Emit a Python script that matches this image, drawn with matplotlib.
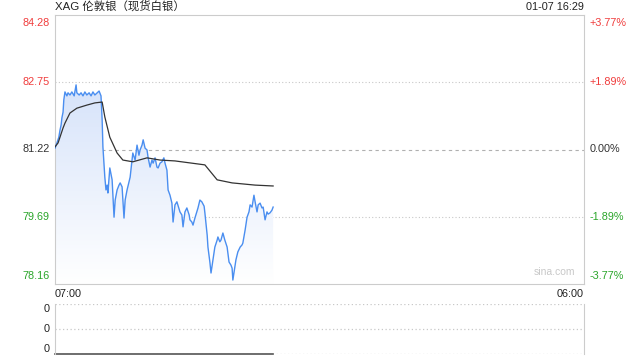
import numpy as np
import matplotlib.pyplot as plt
from matplotlib.patches import Polygon

plt.rcParams['font.family'] = ['Liberation Sans', 'Noto Sans CJK SC', 'DejaVu Sans']

# minutes after 07:00, price
minutes = [0, 5, 10, 13, 16, 18, 21, 23, 26, 31, 34, 39, 44, 50, 55, 57, 63, 68, 73, 78,
           83, 89, 94, 99, 104, 110, 115, 120, 123, 125, 130, 133, 136, 138, 143, 149, 154,
           157, 162, 167, 170, 175, 180, 183, 188, 196, 203, 209, 214, 219, 222, 227, 230,
           235, 240, 243, 248, 253, 256, 261, 266, 269, 274, 279, 284, 287, 292, 295, 300,
           305, 308, 313, 318, 323, 326, 331, 334, 339, 344, 350, 352, 357, 360, 365, 370,
           373, 378, 383, 389, 391, 397, 399, 404, 407, 412, 417, 423, 425, 430, 433, 438,
           443, 449, 454, 459, 462, 464, 470, 472, 477, 483, 488, 490, 496, 501, 506, 509,
           514, 519, 522, 527, 530, 535, 540, 543, 548, 553, 556, 561, 566, 569]
price = [81.25, 81.37, 81.50, 81.66, 81.78, 81.94, 82.07, 82.35, 82.53, 82.44, 82.51, 82.46,
         82.53, 82.44, 82.69, 82.51, 82.46, 82.51, 82.44, 82.53, 82.46, 82.51, 82.44, 82.53,
         82.46, 82.51, 82.55, 82.44, 81.89, 81.28, 80.59, 80.30, 80.41, 80.23, 80.80, 80.53,
         79.68, 80.07, 80.30, 80.41, 80.46, 80.37, 79.66, 80.07, 80.30, 80.59, 81.14, 80.98,
         81.32, 81.09, 81.21, 81.32, 81.44, 81.25, 81.21, 81.03, 80.82, 80.98, 80.91, 81.03,
         80.82, 80.80, 80.91, 80.94, 81.03, 80.91, 80.75, 80.30, 80.18, 80.00, 79.57, 79.96,
         80.03, 79.89, 79.80, 79.73, 79.46, 79.80, 79.89, 79.73, 79.62, 79.57, 79.50, 79.66,
         79.80, 79.89, 80.07, 80.03, 79.93, 79.78, 79.27, 79.00, 78.66, 78.41, 78.71, 79.00,
         79.16, 79.23, 79.12, 79.16, 79.32, 79.16, 79.00, 78.66, 78.59, 78.52, 78.25, 78.59,
         78.71, 78.89, 79.00, 79.05, 79.09, 79.39, 79.68, 79.80, 79.96, 79.91, 80.18, 80.03,
         79.80, 79.96, 80.00, 79.89, 79.91, 79.62, 79.80, 79.75, 79.78, 79.84, 79.91]

avg_minutes = [0, 8, 13, 21, 26, 39, 57, 83, 104, 123, 130, 143, 162, 177, 203, 240, 274,
               313, 391, 423, 462, 522, 569]
avg_price = [81.28, 81.37, 81.50, 81.71, 81.82, 82.05, 82.16, 82.23, 82.28, 82.30, 81.96,
             81.50, 81.14, 80.98, 80.94, 81.03, 80.98, 80.96, 80.87, 80.53, 80.46, 80.41, 80.39]

prev_close = 81.22
price_ticks = [84.28, 82.75, 81.22, 79.69, 78.16]
pct_labels = ['+3.77%', '+1.89%', '0.00%', '-1.89%', '-3.77%']
tick_colors = ['#f03c3c', '#f03c3c', '#333333', '#2aa52a', '#2aa52a']
total_minutes = 1380

fig = plt.figure(figsize=(6.4, 3.6), dpi=100)
ax = fig.add_axes([55/640, 1-284/360, 529/640, 269/360])
ax.set_xlim(0, total_minutes)
ax.set_ylim(price_ticks[-1], price_ticks[0])

# gradient fill under the price line
grad = np.linspace(0, 1, 256).reshape(-1, 1)
top_c = np.array([0.84, 0.89, 0.98])
bot_c = np.array([1.0, 1.0, 1.0])
img = top_c * (1 - grad[..., None]) + bot_c * grad[..., None]
img = img.reshape(256, 1, 3)
im = ax.imshow(img, extent=[0, minutes[-1], price_ticks[-1], max(price)], aspect='auto', zorder=1)
verts = [(minutes[0], price_ticks[-1])] + list(zip(minutes, price)) + [(minutes[-1], price_ticks[-1])]
poly = Polygon(verts, closed=True, facecolor='none', edgecolor='none')
ax.add_patch(poly)
im.set_clip_path(poly)
ax.set_xlim(0, total_minutes)
ax.set_ylim(price_ticks[-1], price_ticks[0])

ax.plot(minutes, price, color='#4a8ef0', lw=1.0, zorder=3)
ax.plot(avg_minutes, avg_price, color='#333333', lw=0.9, zorder=4)

for p in [82.75, 79.69]:
    ax.axhline(p, color='#c8c8c8', lw=0.8, ls=(0, (1, 2)), zorder=0)
ax.axhline(prev_close, color='#b0b0b0', lw=0.8, ls=(0, (3, 3)), zorder=0)

for s in ax.spines.values():
    s.set_color('#cccccc')
ax.set_xticks([])
ax.set_yticks([])

for p, c in zip(price_ticks, tick_colors):
    va = 'top' if p == price_ticks[0] else ('bottom' if p == price_ticks[-1] else 'center')
    off = -1 if va == 'top' else (1 if va == 'bottom' else 0)
    ax.annotate(f'{p:.2f}', xy=(0, p), xytext=(-4, off * 2), textcoords='offset points',
                ha='right', va=va, color=c, fontsize=7.8)
for p, lab, c in zip(price_ticks, pct_labels, tick_colors):
    va = 'top' if p == price_ticks[0] else ('bottom' if p == price_ticks[-1] else 'center')
    off = -1 if va == 'top' else (1 if va == 'bottom' else 0)
    ax.annotate(lab, xy=(total_minutes, p), xytext=(4, off * 2), textcoords='offset points',
                ha='left', va=va, color=c, fontsize=7.8)

ax.text(0, 1.012, 'XAG 伦敦银（现货白银）', transform=ax.transAxes, ha='left', va='bottom',
        fontsize=8.2, color='#222222')
ax.text(1, 1.012, '01-07 16:29', transform=ax.transAxes, ha='right', va='bottom',
        fontsize=7.8, color='#222222')
ax.text(0.983, 0.025, 'sina.com', transform=ax.transAxes, ha='right', va='bottom',
        fontsize=7.5, color='#c8c8c8')
ax.text(0, -0.02, '07:00', transform=ax.transAxes, ha='left', va='top', fontsize=7.8, color='#222222')
ax.text(1, -0.02, '06:00', transform=ax.transAxes, ha='right', va='top', fontsize=7.8, color='#222222')

# volume panel
vol_levels = [0, 0.5, 1]
vax = fig.add_axes([55/640, 1-354/360, 529/640, 50/360])
vax.set_xlim(0, total_minutes)
vax.set_ylim(0, 1)
for s in ['top', 'bottom']:
    vax.spines[s].set_visible(False)
for s in ['left', 'right']:
    vax.spines[s].set_color('#cccccc')
for v in vol_levels:
    vax.axhline(v, color='#c8c8c8', lw=0.9, ls=(0, (1, 2)))
vax.plot([minutes[0], minutes[-1]], [0, 0], color='#555555', lw=1.2, clip_on=False)
vax.set_xticks([])
vax.set_yticks(vol_levels)
vax.set_yticklabels(['0'] * len(vol_levels), fontsize=7.8, color='#222222')
vax.tick_params(axis='y', length=0, pad=4)
for lab, va in zip(vax.get_yticklabels(), ['bottom', 'center', 'top']):
    lab.set_va(va)

fig.savefig('out.png', dpi=100)
